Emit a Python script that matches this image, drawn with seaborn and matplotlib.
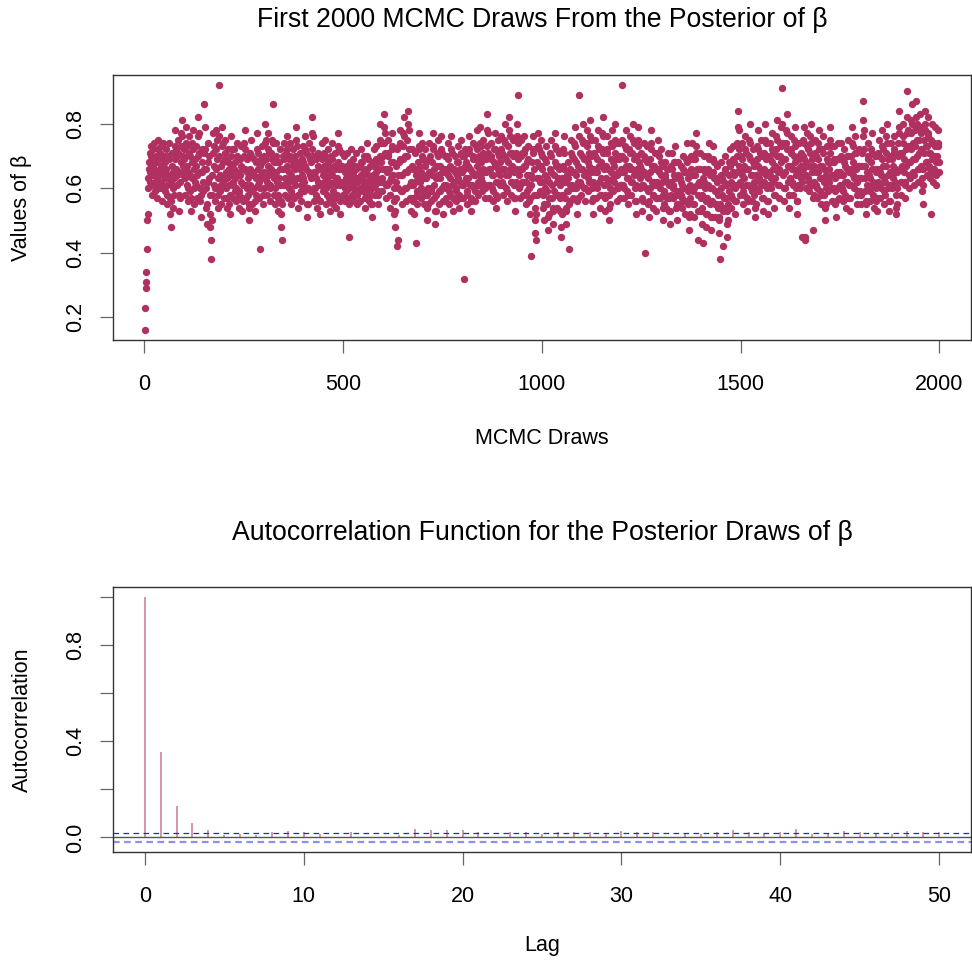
import numpy as np
import pandas as pd
import matplotlib
matplotlib.use("Agg")
import matplotlib.pyplot as plt
import seaborn as sns

# ---- data (values in hundredths, read/estimated from the picture) ----
draws_text = """
16 23 29 31 34 41 50 52 63 60  68 66 71 62 65 70 73 61 58 64  67 72 69 74 66 62 59 65 70 68  61 57 63 72 75 69 64 60 66 71  73 67 62 56 60 65 69 74 70 64
59 63 68 72 66 61 55 58 64 70  74 69 63 57 52 48 56 62 67 71  65 60 54 58 63 69 73 78 72 66  61 64 70 75 71 65 58 53 57 62  68 73 77 81 76 70 64 67 72 69
63 58 66 74 79 73 67 61 56 60  65 71 76 70 64 59 53 57 63 68  74 78 72 66 60 55 62 69 73 67  61 57 64 70 76 82 77 71 65 60  56 51 58 65 72 68 62 59 66 71
86 79 72 66 60 54 49 55 62 68  74 70 63 58 52 48 44 38 50 58  64 71 77 73 67 61 56 60 66 72  78 75 69 63 58 54 92 76 70 64  59 55 61 67 73 79 74 68 62 57
63 69 75 71 65 60 54 57 63 68  72 66 61 55 52 58 64 70 76 72  67 62 57 61 66 72 68 63 59 56  60 65 70 74 69 64 58 54 59 64  69 73 67 62 57 53 56 61 66 70
74 78 72 66 61 57 60 65 69 63  58 54 50 55 61 66 71 75 70 64  59 55 60 65 69 64 60 56 53 58  63 68 72 77 71 66 61 57 62 67  41 60 64 69 73 68 63 58 55 60
65 70 74 80 75 69 63 58 62 67  72 77 71 65 60 56 61 66 71 75  69 64 86 74 68 63 58 55 60 65  70 74 68 62 57 53 58 63 68 72  66 61 56 52 48 44 55 61 66 70
74 69 63 58 61 66 71 76 72 67  62 57 60 65 69 74 70 64 59 55  58 63 68 72 67 62 57 61 66 70  75 79 73 68 63 58 54 58 63 67  71 66 61 56 59 64 69 73 68 63
59 62 67 72 76 71 66 60 55 51  55 60 65 70 74 69 64 59 63 68  72 77 82 76 70 65 60 56 60 65  69 63 58 54 57 62 67 71 66 61  56 52 56 61 66 70 74 69 64 59
62 67 71 75 70 65 60 55 58 63  68 72 67 62 57 53 56 61 66 70  74 69 64 59 55 58 62 67 71 66  61 57 54 58 63 68 73 77 72 66  61 56 52 57 62 67 71 66 61 58
62 66 70 65 60 56 59 63 67 71  66 61 57 45 55 60 64 68 72 67  62 58 61 65 69 64 60 56 59 63  67 71 66 62 58 55 59 63 67 63  59 56 60 64 68 72 68 63 59 62
66 70 65 61 57 54 58 62 66 70  74 69 64 60 56 59 63 67 62 58  55 51 55 60 64 68 72 67 62 58  61 65 69 73 68 63 59 55 58 62  66 70 75 80 74 68 63 59 62 66
70 74 79 83 77 71 66 61 57 61  65 70 75 71 66 62 58 54 58 63  68 72 77 73 68 64 60 56 52 48  53 57 62 67 72 42 44 60 64 68  73 78 74 69 64 59 55 59 64 69
73 77 82 76 70 65 60 56 60 65  70 75 80 84 78 72 66 61 57 53  57 62 67 72 66 61 56 52 57 62  66 71 43 64 59 55 58 63 68 73  77 72 67 62 57 60 65 70 74 69
64 59 55 58 63 67 72 68 63 58  54 50 55 60 65 69 74 70 65 60  56 59 64 68 73 77 72 66 61 57  53 49 53 58 63 67 71 75 70 64  59 55 59 63 67 72 76 71 65 60
56 52 56 61 66 70 65 60 57 61  66 70 74 69 64 59 55 58 63 67  72 76 71 66 61 57 53 57 62 66  70 65 60 56 59 64 68 73 68 63  58 54 57 62 66 71 75 70 65 61
57 61 66 70 32 62 67 72 68 63  59 55 58 63 67 72 76 71 66 61  57 53 56 61 65 70 74 69 64 60  56 59 64 69 73 78 72 67 62 58  61 65 70 74 79 73 68 63 59 62
66 71 75 70 65 61 57 60 65 69  73 78 83 77 71 66 61 57 61 66  70 74 69 64 60 56 59 64 68 72  77 72 67 62 58 54 57 62 66 71  75 70 65 61 64 68 72 76 71 66
62 58 61 66 70 75 80 74 69 64  60 56 59 64 68 73 78 82 76 71  66 62 58 62 67 71 75 70 65 61  57 53 57 62 66 71 76 80 89 74  69 64 60 57 61 66 70 75 71 66
62 58 62 67 71 76 72 67 62 58  55 59 64 68 73 69 64 60 56 52  57 61 64 39 63 68 72 76 71 66  58 54 50 46 44 52 58 63 68 73  77 72 67 63 59 62 67 71 75 70
66 62 58 54 50 55 60 64 69 73  68 63 59 55 51 47 52 57 62 66  71 75 70 65 61 57 53 49 54 59  64 68 73 77 72 67 62 58 54 58  63 67 71 66 61 57 53 48 45 52
58 63 67 72 76 71 66 62 57 53  49 54 59 64 68 63 59 55 41 56  61 66 71 75 70 65 61 57 60 65  69 74 79 73 68 64 60 56 52 57  62 67 89 76 71 66 62 58 61 66
70 75 80 74 69 64 60 56 60 65  69 74 78 73 68 63 59 62 67 71  76 81 75 70 65 60 56 52 57 62  66 71 75 70 65 61 57 60 65 69  73 78 72 67 62 58 54 58 63 68
72 77 82 76 71 66 61 57 53 58  63 67 72 76 71 66 62 58 54 50  55 60 65 69 74 78 73 68 63 59  62 67 71 75 80 74 69 64 60 56  60 65 69 74 70 65 61 57 61 66
92 75 70 65 61 57 60 65 69 73  78 72 67 63 59 55 58 63 67 72  76 71 66 62 58 62 66 71 75 80  74 69 64 60 56 52 56 61 66 70  75 79 73 68 64 60 63 67 71 66
61 57 53 56 61 65 70 74 69 40  60 64 69 73 68 63 59 55 51 56  60 65 69 74 78 72 67 62 58 54  58 62 67 71 66 61 57 53 57 62  66 71 75 70 65 61 57 60 64 68
72 67 62 58 54 50 55 59 64 68  63 58 54 57 62 66 71 66 61 57  53 49 53 58 62 67 71 66 61 57  60 64 68 73 68 63 58 54 50 55  59 64 68 63 58 55 59 63 67 62
58 54 57 61 66 70 65 60 56 52  56 60 65 69 74 68 63 59 55 51  47 52 57 61 66 70 74 69 64 59  55 51 55 60 64 69 73 77 71 66  61 44 53 58 62 66 71 66 61 57
53 49 54 58 63 43 62 66 70 65  60 56 52 48 52 57 61 66 70 74  69 64 60 55 51 47 51 56 60 65  69 73 68 63 59 55 51 55 59 63  67 62 58 54 50 46 51 38 55 60
64 68 63 58 54 42 53 57 62 66  70 65 61 57 53 49 45 50 55 59  64 68 72 67 62 58 54 57 61 65  69 73 68 64 60 56 52 56 61 65  70 74 79 84 78 72 67 62 58 61
65 70 74 69 64 59 55 58 63 67  72 76 71 66 61 57 53 56 61 66  70 75 80 74 69 64 60 56 59 64  68 72 67 62 58 54 51 55 60 64  69 73 78 72 67 63 59 62 66 71
75 70 65 61 57 53 57 62 66 71  75 80 74 69 64 60 56 52 56 61  65 70 74 69 64 60 63 68 72 77  71 66 62 58 54 58 63 67 72 76  81 75 70 65 61 57 61 66 70 74
79 73 68 91 80 74 69 64 60 56  60 65 69 74 78 83 77 72 67 62  58 54 58 63 67 72 76 71 66 62  58 61 66 70 75 79 73 68 64 60  56 52 56 61 66 70 74 69 64 60
63 67 71 45 62 66 70 75 79 74  69 44 45 60 64 68 73 77 72 67  63 59 62 67 71 76 80 74 69 65  61 57 47 58 62 67 71 75 70 65  61 57 60 65 69 74 78 72 67 63
59 55 58 63 67 72 76 71 66 62  58 54 50 55 60 64 69 73 68 63  59 62 66 71 75 79 73 68 64 60  56 60 64 69 73 68 63 59 55 51  56 60 65 69 74 69 64 60 57 61
65 70 74 69 64 60 56 59 64 68  72 67 62 58 54 57 62 66 70 75  70 65 61 57 53 57 61 66 70 74  79 73 68 64 60 63 67 71 76 71  66 62 58 55 59 63 67 72 67 63
59 55 58 63 67 71 76 81 87 78  72 67 63 59 55 52 56 61 65 70  74 69 64 60 56 59 63 68 72 77  71 66 62 58 54 57 61 66 70 65  60 56 53 57 62 66 71 75 70 65
61 57 60 64 69 73 78 72 67 63  59 55 58 62 67 71 76 80 74 69  64 60 56 53 56 61 65 70 74 69  64 60 63 67 72 76 71 66 62 58  54 52 55 60 65 70 74 79 84 77
71 66 62 58 62 67 71 76 80 74  69 65 61 57 62 67 72 77 82 90  78 73 68 64 60 63 68 72 77 81  86 80 74 69 65 61 64 69 73 78  82 87 80 75 70 66 62 66 71 75
79 83 77 72 67 63 59 55 61 66  71 75 80 84 78 73 68 64 68 73  77 82 76 71 67 63 66 71 75 52  80 74 69 65 62 66 70 74 79 73  68 64 61 65 70 74 78 73 68 65
"""
beta_draws = [int(v) / 100 for v in draws_text.split()]
draw_index = list(range(1, len(beta_draws) + 1))

acf_lags = list(range(0, 51))
acf_values = [1.0, 0.357, 0.13, 0.062, 0.029, 0.011, 0.015, 0.011, 0.021, 0.026,
              0.021, 0.015, 0.004, 0.021, 0.004, -0.004, 0.010, 0.035, 0.031, 0.031,
              0.033, 0.021, 0.004, 0.021, 0.021, 0.015, 0.021, 0.021, 0.021, 0.014,
              0.026, 0.021, 0.021, -0.004, 0.015, 0.015, 0.021, 0.031, 0.021, 0.013,
              0.021, 0.035, 0.013, 0.013, 0.026, 0.021, 0.013, 0.015, 0.026, 0.021,
              0.021]
conf_limit = 0.0196

title_top = "First 2000 MCMC Draws From the Posterior of \u03b2"
title_bottom = "Autocorrelation Function for the Posterior Draws of \u03b2"

# ---- style ----
sns.set_theme(style="ticks")
plt.rcParams["font.family"] = ["Liberation Sans", "DejaVu Sans"]
plt.rcParams["text.color"] = "black"

MAROON = "#B03060"
BOX = "#333333"
TICK = "#666666"
FS_TICK = 15.5
FS_TITLE = 19.2

W, H = 972, 966
fig = plt.figure(figsize=(W / 100, H / 100), dpi=100)

def px_axes(left, top, right, bottom):
    return fig.add_axes([left / W, 1 - bottom / H, (right - left) / W, (bottom - top) / H])

def style_axes(ax):
    for s in ax.spines.values():
        s.set_color(BOX)
        s.set_linewidth(1.0)
    ax.tick_params(axis="both", which="both", direction="out", length=9.5,
                   width=0.9, color=TICK, labelsize=FS_TICK, labelcolor="black")
    ax.tick_params(axis="x", pad=15)
    ax.tick_params(axis="y", pad=10)
    ax.grid(False)
    ax.set_xlabel("")
    ax.set_ylabel("")

# ---- top panel ----
ax1 = px_axes(113, 75, 971, 340)
df = pd.DataFrame({"draw": draw_index, "beta": beta_draws})
sns.scatterplot(data=df, x="draw", y="beta", ax=ax1, color=MAROON, s=28,
                linewidth=0, edgecolor=None, legend=False)
n = len(beta_draws)
xr = n - 1
ax1.set_xlim(1 - 0.04 * xr, n + 0.04 * xr)
ymin, ymax = min(beta_draws), max(beta_draws)
yr = ymax - ymin
ax1.set_ylim(ymin - 0.04 * yr, ymax + 0.04 * yr)
ax1.set_xticks([0, 500, 1000, 1500, 2000])
ax1.set_xticklabels(["0", "500", "1000", "1500", "2000"])
ax1.set_yticks([0.2, 0.4, 0.6, 0.8])
ax1.set_yticklabels(["0.2", "0.4", "0.6", "0.8"], rotation=90, va="center")
style_axes(ax1)

# ---- bottom panel ----
ax2 = px_axes(113, 587, 971, 852)
ax2.vlines(acf_lags, 0, acf_values, color=MAROON, alpha=0.55, linewidth=1.3)
ax2.axhline(0, color="#555555", linewidth=1.0)
ax2.axhline(conf_limit, color="#2525d8", linewidth=0.9, linestyle=(0, (4.5, 3.5)))
ax2.axhline(-conf_limit, color="#8f8ff2", linewidth=1.6, linestyle=(0, (3, 2)))
ax2.set_xlim(-2, 52)
lo = min(min(acf_values), -conf_limit)
hi = max(acf_values)
ax2.set_ylim(lo - 0.04 * (hi - lo), hi + 0.04 * (hi - lo))
ax2.set_xticks([0, 10, 20, 30, 40, 50])
ax2.set_xticklabels(["0", "10", "20", "30", "40", "50"])
ax2.set_yticks([0.0, 0.2, 0.4, 0.6, 0.8, 1.0])
ax2.set_yticklabels(["0.0", "", "0.4", "", "0.8", ""], rotation=90, va="center")
style_axes(ax2)

# ---- titles and axis labels ----
fig.text(542 / W, 1 - 20 / H, title_top, ha="center", va="center", fontsize=FS_TITLE, color="black")
fig.text(542 / W, 1 - 533 / H, title_bottom, ha="center", va="center", fontsize=FS_TITLE, color="black")
fig.text(542 / W, 1 - 438 / H, "MCMC Draws", ha="center", va="center", fontsize=FS_TICK, color="black")
fig.text(542 / W, 1 - 945 / H, "Lag", ha="center", va="center", fontsize=FS_TICK, color="black")
fig.text(22 / W, 1 - 208 / H, "Values of \u03b2", ha="center", va="center",
         rotation=90, fontsize=FS_TICK, color="black")
fig.text(22 / W, 1 - 720 / H, "Autocorrelation", ha="center", va="center",
         rotation=90, fontsize=FS_TICK, color="black")

fig.savefig("out.png", dpi=100, facecolor="white")
